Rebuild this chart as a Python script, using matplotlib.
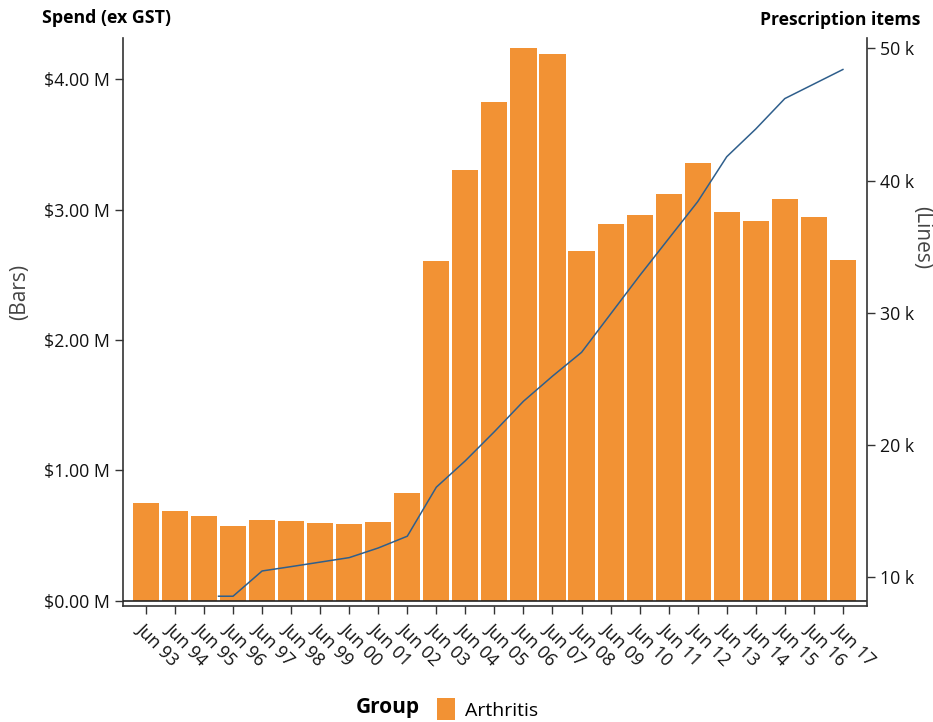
import matplotlib
matplotlib.use("Agg")
import matplotlib.pyplot as plt
from matplotlib.patches import Patch
from matplotlib.ticker import FuncFormatter, FixedLocator
import numpy as np

plt.rcParams['font.family'] = ['Open Sans', 'DejaVu Sans']

categories = ["Jun 93", "Jun 94", "Jun 95", "Jun 96", "Jun 97", "Jun 98", "Jun 99",
              "Jun 00", "Jun 01", "Jun 02", "Jun 03", "Jun 04", "Jun 05", "Jun 06",
              "Jun 07", "Jun 08", "Jun 09", "Jun 10", "Jun 11", "Jun 12", "Jun 13",
              "Jun 14", "Jun 15", "Jun 16", "Jun 17"]

# Spend (ex GST), $ millions
spend_m = [0.748, 0.687, 0.651, 0.574, 0.618, 0.610, 0.595, 0.589, 0.602, 0.825,
           2.605, 3.304, 3.826, 4.240, 4.194, 2.682, 2.889, 2.959, 3.119, 3.358,
           2.982, 2.913, 3.081, 2.943, 2.613]

# Prescription items (thousands); line starts half a period before Jun 96
line_pos = [2.5, 3, 4, 5, 6, 7, 8, 9, 10, 11, 12, 13, 14, 15, 16, 17, 18, 19, 20,
            21, 22, 23, 24]
items_k = [8.55, 8.55, 10.46, 10.79, 11.13, 11.47, 12.20, 13.09, 16.8, 18.8, 21.0,
           23.3, 25.2, 27.0, 29.9, 32.8, 35.6, 38.4, 41.8, 43.9, 46.2, 47.3, 48.4]

left_ticks = [0, 1, 2, 3, 4]
right_ticks = [10, 20, 30, 40, 50]

bar_color = "#F29234"
line_color = "#2F5F8C"

fig = plt.figure(figsize=(9.33, 7.22), dpi=100)
ax = fig.add_axes([123/933, 1-606/722, (867-123)/933, (606-37.5)/722])
x = np.arange(len(categories))
ax.bar(x, spend_m, width=0.9, color=bar_color, zorder=2)
ax.axhline(0, color="#222222", lw=1.2, zorder=3)
ax.set_xlim(-0.79, 24.83)
ax.set_ylim(-0.042, 4.321)
ax.yaxis.set_major_locator(FixedLocator(left_ticks))
ax.yaxis.set_major_formatter(FuncFormatter(lambda v, p: f"${v:.2f} M"))
ax.set_xticks(x)
ax.set_xticklabels(categories, rotation=-45, ha="left", va="top", rotation_mode="anchor")
for s in ["top", "right"]:
    ax.spines[s].set_visible(False)
for s in ["left", "bottom"]:
    ax.spines[s].set_color("#333333")
    ax.spines[s].set_linewidth(1.2)
ax.tick_params(axis="both", direction="out", length=6, width=1, color="#333333",
               labelsize=12.8, labelcolor="#111111")
ax.tick_params(axis="x", pad=4)

ax2 = ax.twinx()
ax2.plot(line_pos, items_k, color=line_color, lw=1.1, zorder=4)
ax2.set_ylim(7.81, 50.82)
ax2.yaxis.set_major_locator(FixedLocator(right_ticks))
ax2.yaxis.set_major_formatter(FuncFormatter(lambda v, p: f"{v:.0f} k"))
for s in ["top", "left", "bottom"]:
    ax2.spines[s].set_visible(False)
ax2.spines["right"].set_color("#333333")
ax2.spines["right"].set_linewidth(1.2)
ax2.tick_params(axis="y", direction="out", length=6, width=1, color="#333333",
                labelsize=12.8, labelcolor="#111111")

fig.text(42/933, 1-18/722, "Spend (ex GST)", fontsize=12.8, fontweight="bold",
         ha="left", va="center")
fig.text(920/933, 1-20/722, "Prescription items", fontsize=12.6, fontweight="bold",
         ha="right", va="center")
fig.text(20/933, 1-292/722, "(Bars)", fontsize=15, rotation=90, ha="center",
         va="center", color="#444444")
fig.text(922/933, 1-238/722, "(Lines)", fontsize=15, rotation=270, ha="center",
         va="center", color="#444444")

fig.text(420/933, 1-708/722, "Group", fontsize=15, fontweight="bold", ha="right",
         va="center")
fig.legend(handles=[Patch(facecolor=bar_color, edgecolor="none", label="Arthritis")],
           loc="center left", bbox_to_anchor=(437/933, 1-709/722), frameon=False,
           fontsize=14, handlelength=0.9, handleheight=1.3, handletextpad=0.55,
           borderaxespad=0, borderpad=0)

fig.savefig("out.png", dpi=100)
